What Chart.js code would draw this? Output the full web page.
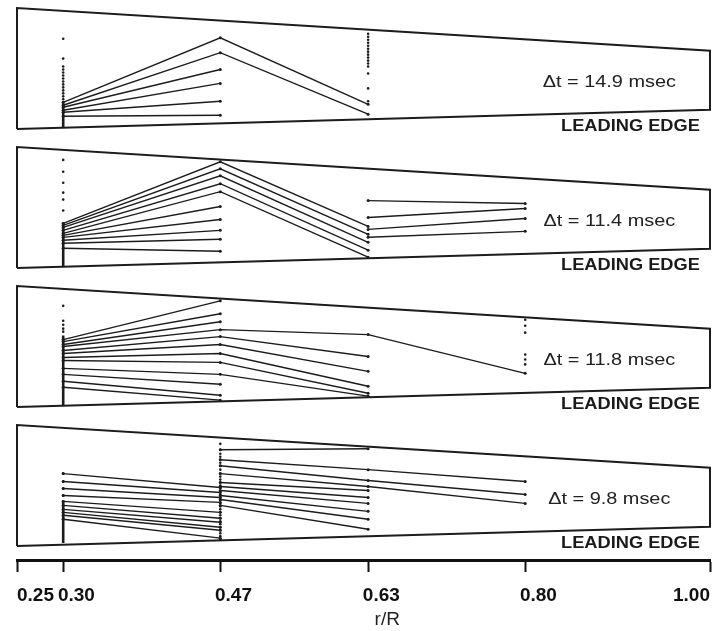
<!DOCTYPE html>
<html>
<head>
<meta charset="utf-8">
<script src="https://cdn.jsdelivr.net/npm/chart.js@4.4.1/dist/chart.umd.min.js"></script>
<style>
  html, body { margin: 0; padding: 0; background: #fff; }
  #wrap { width: 718px; height: 631px; position: relative; }
</style>
</head>
<body>
<div id="wrap"><canvas id="bladeChart"></canvas></div>
<script>
// radial stations (r/R) and the axis ticks
const stations = [0.30, 0.47, 0.63, 0.80];
const xTicks = [0.25, 0.30, 0.47, 0.63, 0.80, 1.00];
const deltaT = ['Δt = 14.9 msec', 'Δt = 11.4 msec', 'Δt = 11.8 msec', 'Δt = 9.8 msec'];
const edgeLabel = 'LEADING EDGE';

// blade planform (chord units), root -> tip
const outlineX = [0.25, 0.25, 1.00, 1.00, 0.25];
const outlineY = [1.4, 13.6, 9.3, 3.35, 1.4];

// each line: chord position at stations 0.30 / 0.47 / 0.63 / 0.80 (null = none)
const p1Lines = [
  [4.1, 10.6, 3.9, null],
  [3.8, 9.1, 2.9, null],
  [3.6, 7.4, null, null],
  [3.3, 6.0, null, null],
  [3.1, 4.2, null, null],
  [2.7, 2.8, null, null]
];
const p1Dots = [
  [10.5, 8.5, 7.7, 7.4, 7.1, 6.8, 6.5, 6.2, 5.9, 5.6, 5.3, 5.0, 4.7, 4.4, 4.1],
  [],
  [11.0, 10.7, 10.4, 10.1, 9.8, 9.5, 9.2, 8.9, 8.6, 8.3, 8.0, 7.7, 7.0, 5.5, 4.2],
  []
];
const p1Bar = [4.0, 1.5];

const p2Lines = [
  [5.9, 12.1, 5.6, null],
  [5.7, 11.4, 4.8, null],
  [5.5, 10.7, 4.0, null],
  [5.2, 9.9, 3.2, null],
  [4.9, 9.1, 2.5, null],
  [4.7, 7.6, null, null],
  [4.5, 6.3, null, null],
  [4.2, 5.2, null, null],
  [3.9, 4.3, null, null],
  [3.4, 3.1, null, null],
  [null, null, 8.2, 7.9],
  [null, null, 6.5, 7.4],
  [null, null, 5.3, 6.4],
  [null, null, 4.5, 5.1]
];
const p2Dots = [
  [12.3, 11.1, 10.0, 9.0, 8.3, 7.2],
  [],
  [],
  []
];
const p2Bar = [6.0, 1.5];

const p3Lines = [
  [8.2, 12.1, null, null],
  [8.0, 10.8, null, null],
  [7.7, 10.0, null, null],
  [7.5, 9.2, 8.7, 4.8],
  [7.1, 8.5, 6.5, null],
  [6.8, 7.7, 5.0, null],
  [6.4, 6.8, 3.5, null],
  [6.1, 5.9, 2.8, null],
  [5.3, 4.7, 2.5, null],
  [4.7, 3.7, null, null],
  [4.0, 2.6, null, null],
  [3.4, 2.1, null, null]
];
const p3Dots = [
  [11.6, 10.1, 9.7, 9.3, 9.0],
  [],
  [],
  [10.2, 9.6, 8.9, 6.7, 6.2, 5.7]
];
const p3Bar = [8.6, 1.6];

const p4Lines = [
  [8.7, 7.3, null, null],
  [7.9, 6.8, null, null],
  [7.2, 6.3, null, null],
  [6.5, 5.8, null, null],
  [5.9, 4.8, null, null],
  [5.5, 4.2, null, null],
  [5.1, 3.8, null, null],
  [4.8, 3.3, null, null],
  [4.5, 3.0, null, null],
  [4.1, 2.2, null, null],
  [null, 11.1, 11.2, null],
  [null, 10.1, 9.1, 7.9],
  [null, 9.5, 8.0, 6.6],
  [null, 8.7, 7.4, 5.7],
  [null, 7.8, 7.0, null],
  [null, 7.4, 6.3, null],
  [null, 7.0, 5.7, null],
  [null, 6.5, 4.9, null],
  [null, 6.1, 4.1, null],
  [null, 5.5, 3.1, null]
];
const p4Dots = [
  [8.7, 7.9, 7.2, 6.5],
  [11.7, 11.1, 10.7, 10.4, 10.1, 9.8, 9.5, 9.1, 8.7, 8.4, 8.1, 7.8, 7.5, 7.2, 6.9,
   6.6, 6.3, 6.0, 5.7, 5.4, 5.1, 4.8, 4.5, 4.2, 3.9, 3.6, 3.3, 3.0, 2.7, 2.4, 2.1],
  [],
  []
];
const p4Bar = [6.0, 1.7];

const panels = [
  {lines: p1Lines, dots: p1Dots, bar: p1Bar},
  {lines: p2Lines, dots: p2Dots, bar: p2Bar},
  {lines: p3Lines, dots: p3Dots, bar: p3Bar},
  {lines: p4Lines, dots: p4Dots, bar: p4Bar}
];

const ink = '#1c1c1c';
const datasets = [];
const scales = {
  x: {
    type: 'linear',
    position: 'bottom',
    min: 0.25,
    max: 1.00,
    afterBuildTicks: (scale) => {
      scale.ticks = xTicks.map(v => ({value: v}));
    },
    afterFit: (scale) => {
      scale.height = 71;
      scale.paddingLeft = 0;
      scale.paddingRight = 0;
    },
    ticks: {
      align: 'inner',
      padding: 12,
      color: '#111',
      font: {family: '"Liberation Sans", Arial, sans-serif', size: 19, weight: 'bold'},
      callback: (v, i) => {
        const s = Number(v).toFixed(2);
        return (i === 0 || i === xTicks.length - 1) ? s : '     ' + s;
      }
    },
    grid: {drawOnChartArea: false, drawTicks: true, tickLength: 12, tickWidth: 2, tickColor: '#111'},
    border: {display: true, color: '#111', width: 3},
    title: {
      display: true,
      text: '         r/R',
      color: '#222',
      font: {family: '"Liberation Sans", Arial, sans-serif', size: 19},
      padding: {top: 0, bottom: 0}
    }
  }
};

panels.forEach((panel, p) => {
  const axis = 'y' + p;
  scales[axis] = {
    type: 'linear', position: 'left', display: false,
    min: 0, max: 14, stack: 'blade', stackWeight: 1, weight: panels.length - p
  };

  datasets.push({
    data: outlineX.map((x, i) => ({x: x, y: outlineY[i]})),
    yAxisID: axis, borderColor: ink, borderWidth: 2, pointRadius: 0, clip: false
  });

  panel.lines.forEach(line => {
    datasets.push({
      data: stations.map((x, i) => ({x: x, y: line[i]})).filter(pt => pt.y !== null),
      yAxisID: axis, borderColor: ink, borderWidth: 1.4,
      pointRadius: 1.5, pointBackgroundColor: ink, pointBorderWidth: 0
    });
  });

  panel.dots.forEach((col, i) => {
    if (!col.length) return;
    datasets.push({
      data: col.map(y => ({x: stations[i], y: y})),
      yAxisID: axis, showLine: false,
      pointRadius: 1.3, pointBackgroundColor: ink, pointBorderWidth: 0
    });
  });

  datasets.push({
    data: panel.bar.map(y => ({x: stations[0], y: y})),
    yAxisID: axis, borderColor: ink, borderWidth: 2.6, pointRadius: 0
  });
});

// delta-t and leading edge labels inside every panel
const panelText = {
  id: 'panelText',
  afterDatasetsDraw(chart) {
    const ctx = chart.ctx;
    const xs = chart.scales.x;
    deltaT.forEach((label, p) => {
      const ys = chart.scales['y' + p];
      ctx.save();
      ctx.fillStyle = '#222';
      ctx.textBaseline = 'middle';
      ctx.textAlign = 'center';
      ctx.font = '17px "Liberation Sans", Arial, sans-serif';
      ctx.translate(xs.getPixelForValue(0.891), ys.getPixelForValue(6.1));
      ctx.scale(1.17, 1);
      ctx.fillText(label, 0, 0);
      ctx.restore();

      ctx.save();
      ctx.fillStyle = '#1a1a1a';
      ctx.textBaseline = 'middle';
      ctx.textAlign = 'right';
      ctx.font = 'bold 16px "Liberation Sans", Arial, sans-serif';
      ctx.translate(xs.getPixelForValue(0.989), ys.getPixelForValue(1.7));
      ctx.scale(1.14, 1);
      ctx.fillText(edgeLabel, 0, 0);
      ctx.restore();
    });
  }
};

new Chart(document.getElementById('bladeChart'), {
  type: 'line',
  data: {datasets: datasets},
  options: {
    responsive: true,
    maintainAspectRatio: false,
    animation: false,
    events: [],
    layout: {padding: {left: 17, right: 8, top: 0, bottom: 0}},
    plugins: {legend: {display: false}, tooltip: {enabled: false}},
    scales: scales
  },
  plugins: [panelText]
});
</script>
</body>
</html>
